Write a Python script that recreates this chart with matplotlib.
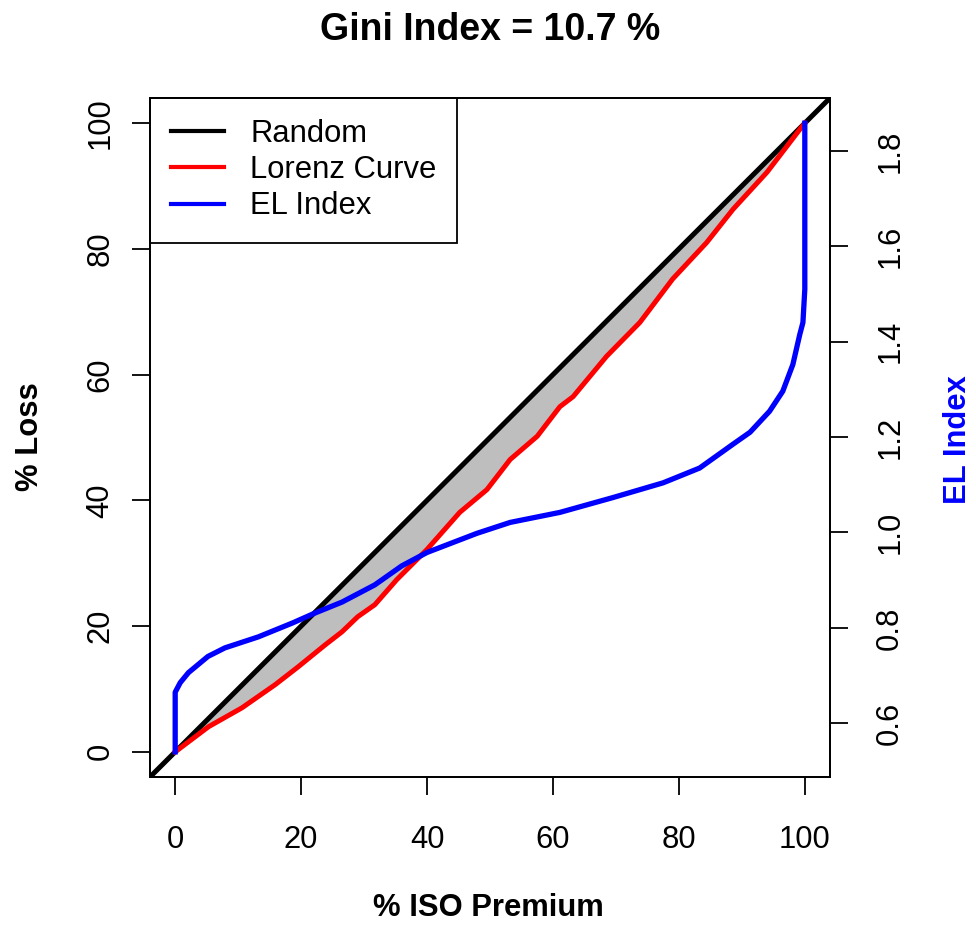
import numpy as np
import matplotlib
matplotlib.use("Agg")
import matplotlib.pyplot as plt
from matplotlib.lines import Line2D

plt.rcParams['font.family'] = ['Liberation Sans', 'DejaVu Sans']

########## data ##########

# Lorenz curve: % ISO premium vs % loss
lorenz_x = [0, 5.3, 10.6, 15.9, 19.5, 23.8, 26.5, 29.0, 31.7, 35.2, 40.0, 45.2,
            49.5, 53.2, 57.5, 61.1, 63.2, 68.5, 73.8, 79.0, 84.4, 88.6, 94.0,
            99.2, 100]
lorenz_y = [0, 4.0, 7.0, 10.7, 13.5, 17.0, 19.1, 21.5, 23.4, 27.4, 32.2, 38.1,
            41.7, 46.5, 50.2, 54.9, 56.5, 62.9, 68.3, 75.2, 81.0, 86.3, 92.2,
            99.0, 100]

# EL index (right axis)
el_x = [0, 0, 0.8, 2.1, 5.2, 7.9, 13.2, 18.6, 22.2, 26.5, 31.7, 36.0, 40.0,
        47.9, 53.2, 61.1, 69.5, 77.5, 83.3, 88.6, 91.3, 94.4, 96.5, 98.1,
        99.2, 99.7, 100, 100]
el_y = [0.54, 0.665, 0.685, 0.706, 0.74, 0.758, 0.781, 0.81, 0.831, 0.854,
        0.89, 0.93, 0.958, 0.998, 1.021, 1.042, 1.073, 1.104, 1.135, 1.185,
        1.21, 1.254, 1.296, 1.352, 1.415, 1.44, 1.51, 1.858]

gini = 10.7
xticks = [0, 20, 40, 60, 80, 100]
yticks = [0, 20, 40, 60, 80, 100]
el_ticks = [0.6, 0.8, 1.0, 1.2, 1.4, 1.6, 1.8]

############ plotting ####################

W, H = 976, 925
fig = plt.figure(figsize=(W / 100, H / 100), dpi=100)
ax = fig.add_axes([150 / W, 1 - 777 / H, 680 / W, 679 / H])

lx = np.array(lorenz_x)
ly = np.array(lorenz_y)
ax.fill(np.concatenate([lx, lx[::-1]]), np.concatenate([ly, lx[::-1]]),
        color='#BEBEBE', lw=0, zorder=1)
ax.axline((0, 0), (1, 1), color='black', lw=3.6, zorder=2)
ax.plot(lx, ly, color='red', lw=3.6, zorder=3)

ax.set_xlim(-4, 104)
ax.set_ylim(-4, 104)
ax.set_xticks(xticks)
ax.set_yticks(yticks)

ax2 = ax.twinx()
ax2.plot(el_x, el_y, color='blue', lw=3.8)
r = max(el_y) - min(el_y)
ax2.set_ylim(min(el_y) - 0.04 * r, max(el_y) + 0.04 * r)
ax2.set_yticks(el_ticks)
ax2.set_yticklabels(['%.1f' % t for t in el_ticks])

for a in (ax, ax2):
    for s in a.spines.values():
        s.set_linewidth(1.3)
ax.tick_params(axis='both', direction='out', length=13, width=1.3,
               labelsize=22.3)
ax.tick_params(axis='x', pad=21.5)
ax.tick_params(axis='y', pad=12, labelrotation=90)
ax2.tick_params(axis='y', direction='out', length=13, width=1.3,
                labelsize=22.3, pad=19.5, labelrotation=90)
for lab in ax.get_yticklabels():
    lab.set_va('center')
for lab in ax2.get_yticklabels():
    lab.set_va('center')

handles = [Line2D([], [], color='black', lw=3),
           Line2D([], [], color='red', lw=3),
           Line2D([], [], color='blue', lw=3)]
leg = ax.legend(handles, ['Random', 'Lorenz Curve', 'EL Index'],
                loc='upper left', bbox_to_anchor=(0, 1), borderaxespad=0,
                fontsize=22.3, labelspacing=0.2, handlelength=1.7,
                handletextpad=0.85, borderpad=0.68, fancybox=False,
                framealpha=1, edgecolor='black')
leg.get_frame().set_linewidth(1.3)
leg.set_zorder(10)

fig.text(490 / W, 1 - 30 / H, 'Gini Index = %.1f %%' % gini, ha='center',
         va='center', fontsize=27, fontweight='bold')
fig.text(488 / W, 1 - 908 / H, '% ISO Premium', ha='center', va='center',
         fontsize=22.3, fontweight='bold')
fig.text(30 / W, 1 - 437 / H, '% Loss', ha='center', va='center',
         rotation=90, fontsize=22.3, fontweight='bold')
fig.text(958 / W, 1 - 440 / H, 'EL Index', ha='center', va='center',
         rotation=90, fontsize=22.3, fontweight='bold', color='blue')

plt.savefig('out.png', dpi=100)
